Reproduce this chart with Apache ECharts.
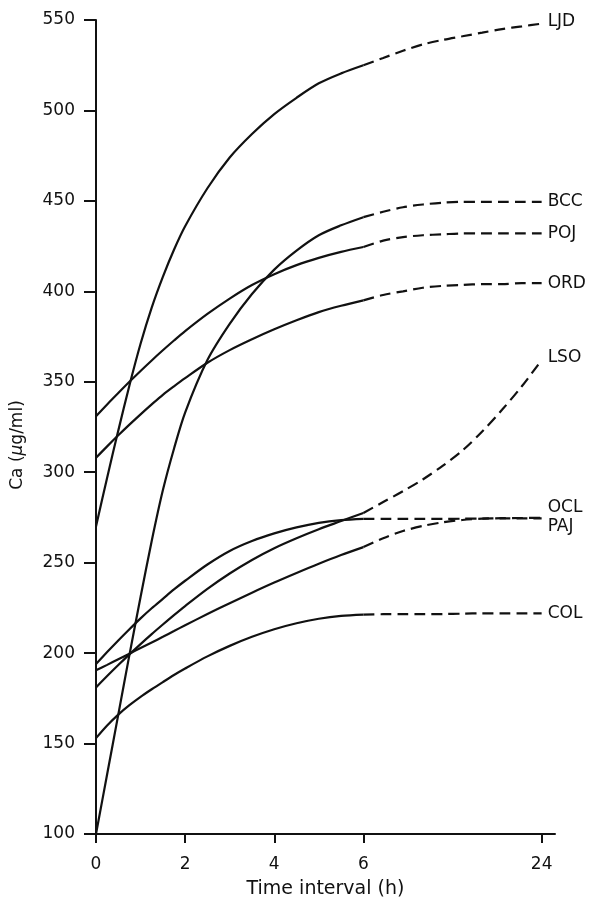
<!DOCTYPE html>
<html>
<head>
    <meta charset="UTF-8"/>
    <script src="https://cdn.jsdelivr.net/npm/echarts@6/dist/echarts.min.js"></script>
    <title>Ca</title>
    <style>
        html, body { margin: 0; padding: 0; background: #fff; }
        #main { width: 591px; height: 909px; }
    </style>
</head>
<body>
<div id="main"></div>
<script type="text/javascript">
    // hours sampled on the solid part (0-6 h) and the dashed part (6-24 h)
    var hoursSolid = [0, 0.25, 0.5, 0.75, 1, 1.25, 1.5, 1.75, 2, 2.5, 3, 3.5, 4, 4.5, 5, 5.5, 6];
    var hoursDash = [6, 8, 10, 12, 14, 16, 18, 20, 22, 24];
    var tickHours = [0, 2, 4, 6, 24];

    var names = ['LJD', 'BCC', 'POJ', 'ORD', 'LSO', 'OCL', 'PAJ', 'COL'];

    var ljdSolid = [270, 297, 323, 348, 371, 391, 408, 423, 436, 457, 474, 487, 498, 507, 515, 520.5, 525];
    var ljdDash = [525, 529, 533, 536.5, 539, 541, 543, 545, 546.5, 548];
    var bccSolid = [100, 133, 166, 199, 231, 262, 290, 313, 333, 362, 382, 398.5, 412, 422.5, 431, 436.5, 441];
    var bccDash = [441, 444, 446.5, 448, 449, 449.5, 449.5, 449.5, 449.5, 449.5];
    var pojSolid = [331, 337.5, 343.8, 350, 356, 361.8, 367.4, 372.8, 378, 387.5, 396, 403.5, 409.5, 414.5, 418.5, 421.8, 424.5];
    var pojDash = [424.5, 428, 430, 431, 431.5, 432, 432, 432, 432, 432];
    var ordSolid = [308, 314.3, 320.4, 326.3, 332, 337.5, 342.8, 347.5, 352, 360.5, 367.5, 373.5, 379, 384, 388.5, 392, 395];
    var ordDash = [395, 398, 400, 402, 403, 403.5, 404, 404, 404.5, 404.5];
    var lsoSolid = [181, 187.3, 193.4, 199.3, 205, 210.5, 215.8, 221, 226, 235.5, 244, 251.5, 258, 263.5, 268.5, 273, 277.5];
    var lsoDash = [277.5, 283.5, 289.5, 296, 303.5, 312, 322.5, 334.5, 347.5, 362];
    var oclSolid = [194, 200.6, 207, 213.2, 219.2, 224.8, 230, 235.2, 240, 249, 256.5, 262, 266.2, 269.5, 272, 273.5, 274.2];
    var oclDash = [274.2, 274.2, 274.2, 274.2, 274.2, 274.3, 274.4, 274.5, 274.5, 274.5];
    var pajSolid = [190.5, 193.5, 196.6, 199.7, 202.8, 205.9, 209, 212.2, 215.4, 221.6, 227.6, 233.4, 239, 244.3, 249.4, 254.2, 258.6];
    var pajDash = [258.6, 263.5, 267.5, 270.3, 272.3, 273.6, 274.3, 274.6, 274.7, 274.8];
    var colSolid = [153, 160, 166, 171.2, 175.8, 180, 184, 187.9, 191.5, 198.2, 204, 209, 213.2, 216.5, 219, 220.6, 221.3];
    var colDash = [221.3, 221.5, 221.5, 221.5, 221.6, 221.8, 222, 222, 222, 222];

    var solids = [ljdSolid, bccSolid, pojSolid, ordSolid, lsoSolid, oclSolid, pajSolid, colSolid];
    var dashes = [ljdDash, bccDash, pojDash, ordDash, lsoDash, oclDash, pajDash, colDash];
    // nudge for the two labels that share an end point
    var labelShift = [-2, 0, 0, 0, -2, -11, 9, 0];

    // broken time axis: 0-6 h linear, 6-24 h squeezed into 4 units
    function pos(h) {
        return h <= 6 ? h : 6 + (h - 6) * 4 / 18;
    }

    var font = 'DejaVu Sans';
    var ink = '#111';

    var series = [];
    for (var i = 0; i < names.length; i++) {
        series.push({
            name: names[i],
            type: 'line',
            smooth: 0.3,
            symbol: 'none',
            lineStyle: {color: ink, width: 2.2},
            data: hoursSolid.map(function (h, k) { return [pos(h), this[k]]; }, solids[i])
        });
        series.push({
            name: names[i],
            type: 'line',
            smooth: 0.3,
            symbol: 'none',
            lineStyle: {color: ink, width: 2.2, type: [11, 6]},
            endLabel: {
                show: true,
                formatter: '{a}',
                distance: 6,
                offset: [0, labelShift[i]],
                color: ink,
                fontFamily: font,
                fontSize: 17
            },
            data: hoursDash.map(function (h, k) { return [pos(h), this[k]]; }, dashes[i])
        });
    }

    var tickPos = tickHours.map(pos);

    var option = {
        animation: false,
        backgroundColor: '#fff',
        grid: {left: 96, right: 36, top: 20, bottom: 75, containLabel: false, outerBoundsMode: 'none'},
        xAxis: {
            type: 'value',
            min: 0,
            max: 10.3,
            name: 'Time interval (h)',
            nameLocation: 'middle',
            nameGap: 46,
            nameTextStyle: {color: ink, fontFamily: font, fontSize: 19},
            splitLine: {show: false},
            axisLine: {lineStyle: {color: ink, width: 2}},
            axisTick: {customValues: tickPos, length: 9, lineStyle: {color: ink, width: 2}},
            axisLabel: {
                customValues: tickPos,
                margin: 22,
                color: ink,
                fontFamily: font,
                fontSize: 17,
                formatter: function (v) {
                    var k = tickPos.indexOf(v);
                    return k >= 0 ? String(tickHours[k]) : '';
                }
            }
        },
        yAxis: {
            type: 'value',
            min: 100,
            max: 550,
            interval: 50,
            name: 'Ca ({mu|μ}g/ml)',
            nameLocation: 'middle',
            nameGap: 70,
            nameTextStyle: {
                color: ink, fontFamily: font, fontSize: 17,
                padding: [0, 36, 0, 0],
                rich: {mu: {fontStyle: 'italic', fontFamily: font, fontSize: 17, color: ink}}
            },
            splitLine: {show: false},
            axisLine: {show: true, lineStyle: {color: ink, width: 2}},
            axisTick: {show: true, length: 12, lineStyle: {color: ink, width: 2}},
            axisLabel: {margin: 21, color: ink, fontFamily: font, fontSize: 17}
        },
        series: series
    };

    var myChart = echarts.init(document.getElementById('main'));
    myChart.setOption(option);
</script>
</body>
</html>
